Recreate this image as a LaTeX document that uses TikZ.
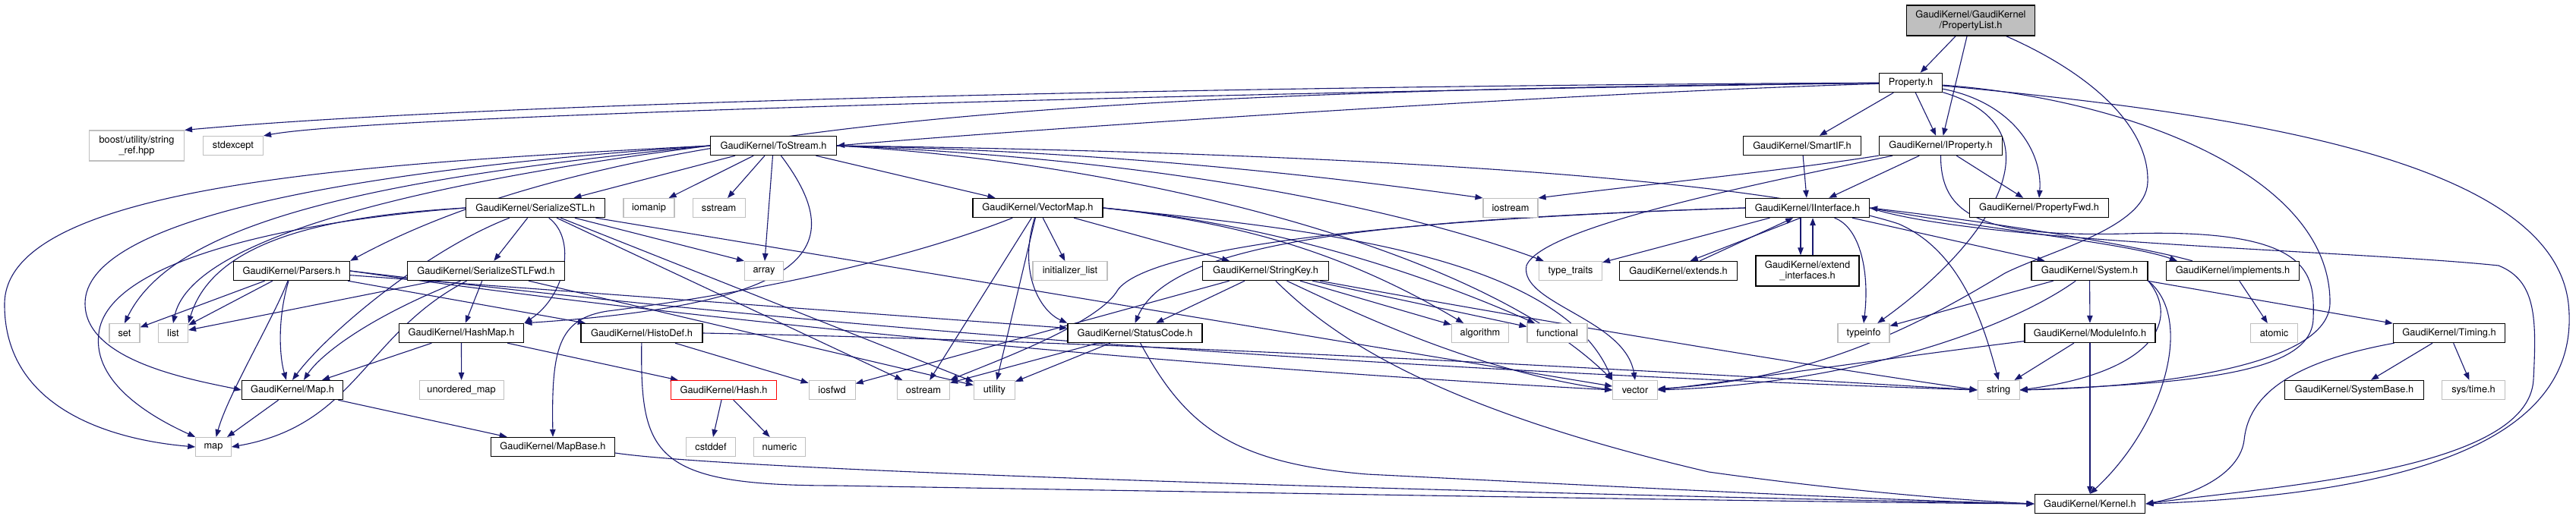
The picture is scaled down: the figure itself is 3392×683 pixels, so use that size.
\documentclass[tikz,border=0pt]{standalone}
\usepackage{fontspec}
\setmainfont{TeX Gyre Heros}
\usetikzlibrary{arrows.meta}
\definecolor{edgeblue}{HTML}{191970}
\definecolor{extgrey}{HTML}{BFBFBF}
\pgfdeclarelayer{background}
\pgfsetlayers{background,main}
\begin{document}
\begin{tikzpicture}[x=1pt,y=-1pt,
  base/.style={rectangle, minimum height=25pt, inner sep=0pt, font=\fontsize{12.8}{14}\selectfont, align=center, text=black},
  doc/.style={base, draw=black, line width=1.4pt, fill=white},
  ext/.style={base, draw=extgrey, line width=1.1pt, fill=white},
  tall/.style={minimum height=40pt},
  edge/.style={draw=edgeblue, line width=1.1pt, -{Triangle[length=10pt,width=7.5pt]}},
]
\begin{pgfonlayer}{background}
\fill[white] (0,0) rectangle (3392,683);
\end{pgfonlayer}
\useasboundingbox (0,0) rectangle (3392,683);
% row 0-1
\node[doc, tall, fill=extgrey, minimum width=169pt] (PL) at (2595,27) {GaudiKernel/GaudiKernel\\/PropertyList.h};
\node[doc, minimum width=83pt] (P) at (2516,109) {Property.h};
% row 2
\node[ext, tall, minimum width=125pt] (boost) at (180,192) {boost/utility/string\\\_ref.hpp};
\node[ext, minimum width=79pt] (stdexcept) at (307,192) {stdexcept};
\node[doc, minimum width=166pt] (TS) at (1018.5,192) {GaudiKernel/ToStream.h};
\node[doc, minimum width=155pt] (SmartIF) at (2373,192) {GaudiKernel/SmartIF.h};
\node[doc, minimum width=162pt] (IP) at (2555.5,192) {GaudiKernel/IProperty.h};
% row 3
\node[doc, minimum width=183pt] (SS) at (705,274) {GaudiKernel/SerializeSTL.h};
\node[ext, minimum width=67pt] (iomanip) at (854.5,274) {iomanip};
\node[ext, minimum width=69pt] (sstream) at (946.6,274) {sstream};
\node[doc, minimum width=171pt] (VM) at (1366.5,274) {GaudiKernel/VectorMap.h};
\node[ext, minimum width=72pt] (iostream) at (1989,274) {iostream};
\node[doc, minimum width=163pt] (II) at (2380,274) {GaudiKernel/IInterface.h};
\node[doc, minimum width=183pt] (PFwd) at (2685,274) {GaudiKernel/PropertyFwd.h};
% row 4
\node[doc, minimum width=153pt] (Parsers) at (384,357) {GaudiKernel/Parsers.h};
\node[doc, minimum width=207pt] (SF) at (640,357) {GaudiKernel/SerializeSTLFwd.h};
\node[ext, minimum width=51pt] (array) at (1006,357) {array};
\node[ext, minimum width=98pt] (initlist) at (1409,357) {initializer\_list};
\node[doc, minimum width=166pt] (SK) at (1666.6,357) {GaudiKernel/StringKey.h};
\node[ext, minimum width=83pt] (typetraits) at (2068,357) {type\_traits};
\node[doc, minimum width=155pt] (extends) at (2210,357) {GaudiKernel/extends.h};
\node[doc, tall, minimum width=136pt] (EI) at (2380,357) {GaudiKernel/extend\\\_interfaces.h};
\node[doc, minimum width=153pt] (Sys) at (2751.5,357) {GaudiKernel/System.h};
\node[doc, minimum width=175pt] (impl) at (2940,357) {GaudiKernel/implements.h};
% row 5
\node[ext, minimum width=40pt] (set) at (164,439) {set};
\node[ext, minimum width=39pt] (list) at (228,439) {list};
\node[doc, minimum width=164.5pt] (HM) at (607.5,439) {GaudiKernel/HashMap.h};
\node[doc, minimum width=160pt] (HD) at (845,439) {GaudiKernel/HistoDef.h};
\node[doc, minimum width=177pt] (SC) at (1494.5,439) {GaudiKernel/StatusCode.h};
\node[ext, minimum width=75pt] (algorithm) at (1949,439) {algorithm};
\node[ext, minimum width=79pt] (functional) at (2050.5,439) {functional};
\node[ext, minimum width=68pt] (typeinfo) at (2454,439) {typeinfo};
\node[doc, minimum width=172pt] (MI) at (2752,439) {GaudiKernel/ModuleInfo.h};
\node[ext, minimum width=62pt] (atomic) at (2994.5,439) {atomic};
\node[doc, minimum width=147pt] (Timing) at (3225,439) {GaudiKernel/Timing.h};
% row 6
\node[doc, minimum width=133pt] (Map) at (385,514) {GaudiKernel/Map.h};
\node[ext, minimum width=111pt] (umap) at (607.6,514) {unordered\_map};
\node[doc, draw=red, line width=1.1pt, minimum width=139pt] (Hash) at (953,514) {GaudiKernel/Hash.h};
\node[ext, minimum width=61pt] (iosfwd) at (1095.6,514) {iosfwd};
\node[ext, minimum width=69pt] (ostream) at (1216,514) {ostream};
\node[ext, minimum width=54pt] (utility) at (1309.4,514) {utility};
\node[ext, minimum width=58.6pt] (vector) at (2153,514) {vector};
\node[ext, minimum width=55pt] (string) at (2631.6,514) {string};
\node[doc, minimum width=183pt] (SysBase) at (3100,514) {GaudiKernel/SystemBase.h};
\node[ext, minimum width=83pt] (systime) at (3257,514) {sys/time.h};
% row 7-8
\node[ext, minimum width=46.5pt] (map) at (281,589) {map};
\node[doc, minimum width=163pt] (MapBase) at (728,589) {GaudiKernel/MapBase.h};
\node[ext, minimum width=65pt] (cstddef) at (936,589) {cstddef};
\node[ext, minimum width=68pt] (numeric) at (1026.4,589) {numeric};
\node[doc, minimum width=145.5pt] (Kernel) at (2752,664) {GaudiKernel/Kernel.h};

\begin{pgfonlayer}{background}
% ---- PropertyList
\draw[edge] (PL) -- (P);
\draw[edge] (PL) -- (IP);
\draw[edge] (PL) .. controls (2760,100) and (2830,170) .. (2828,240) .. controls (2826,300) and (2700,330) .. (2640,360) .. controls (2540,420) and (2400,500) .. (vector);
% ---- Property
\draw[edge] (P) .. controls (1800,112) and (700,130) .. (boost.north east);
\draw[edge] (P) .. controls (1800,118) and (500,150) .. (stdexcept.north east);
\draw[edge] (P) .. controls (2000,125) and (1300,175) .. (TS.east);
\draw[edge] (P) .. controls (1400,120) and (800,160) .. (Parsers.north east);
\draw[edge] (P) -- (SmartIF);
\draw[edge] (P) -- (IP);
\draw[edge] (P) .. controls (2650,135) and (2690,200) .. (PFwd.north);
\draw[edge] (P) .. controls (2720,170) and (2620,320) .. (typeinfo);
\draw[edge] (P) .. controls (2800,130) and (3070,230) .. (3068,400) .. controls (3066,480) and (2850,510) .. (string.east);
\draw[edge] (P) .. controls (2950,150) and (3360,210) .. (3382,400) .. controls (3400,570) and (3200,650) .. (Kernel.east);
% ---- IProperty
\draw[edge] (IP) -- (II);
\draw[edge] (IP) -- (PFwd);
\draw[edge] (IP) .. controls (2350,225) and (2150,245) .. (iostream.north east);
\draw[edge] (IP) .. controls (2300,245) and (2030,300) .. (2010,350) .. controls (2000,400) and (2140,420) .. (vector.north);
\draw[edge] (IP.south) .. controls (2555,290) and (2620,312) .. (2800,308) .. controls (3045,300) and (3048,360) .. (3046,420) .. controls (3044,490) and (2900,505) .. (string.east);
% ---- SmartIF
\draw[edge] (SmartIF) -- (II);
% ---- ToStream
\draw[edge] (TS) -- (SS);
\draw[edge] (TS) -- (iomanip);
\draw[edge] (TS) -- (sstream);
\draw[edge] (TS) -- (array);
\draw[edge] (TS) .. controls (1115,320) and (1085,400) .. (HM.north east);
\draw[edge] (TS) -- (VM);
\draw[edge] (TS.east) .. controls (1500,200) and (1800,240) .. (iostream.north west);
\draw[edge] (TS.east) .. controls (1550,210) and (1860,280) .. (typetraits);
\draw[edge] (TS.east) .. controls (1700,200) and (2300,230) .. (2500,295) .. controls (2580,330) and (2610,420) .. (string.north);
\draw[edge] (TS.east) .. controls (1500,215) and (1950,330) .. (vector.north west);
\draw[edge] (TS.west) .. controls (500,215) and (8,240) .. (6,400) .. controls (5,540) and (150,580) .. (map.west);
\draw[edge] (TS.west) .. controls (450,225) and (112,290) .. (112,400) .. controls (112,475) and (250,500) .. (Map.west);
\draw[edge] (TS.west) .. controls (500,235) and (230,290) .. (set.north);
\draw[edge] (TS.west) .. controls (520,245) and (250,320) .. (list.north);
% ---- SerializeSTL
\draw[edge] (SS) -- (SF);
\draw[edge] (SS) .. controls (760,315) and (745,390) .. (HM.north east);
\draw[edge] (SS) -- (array.north west);
\draw[edge] (SS) -- (ostream);
\draw[edge] (SS) -- (utility);
\draw[edge] (SS) -- (vector);
\draw[edge] (SS.west) .. controls (420,285) and (280,320) .. (list.north east);
\draw[edge] (SS.west) .. controls (400,290) and (140,340) .. (130,440) .. controls (122,505) and (200,550) .. (map.north west);
\draw[edge] (SS) .. controls (560,330) and (430,440) .. (Map.north);
% ---- VectorMap
\draw[edge] (VM) .. controls (1200,340) and (1000,385) .. (800,410) .. controls (735,420) and (726,460) .. (MapBase.north);
\draw[edge] (VM) -- (ostream);
\draw[edge] (VM) -- (utility);
\draw[edge] (VM) .. controls (1340,360) and (1370,410) .. (SC.north west);
\draw[edge] (VM) -- (initlist);
\draw[edge] (VM) -- (SK);
\draw[edge] (VM.east) .. controls (1600,290) and (1750,320) .. (algorithm);
\draw[edge] (VM.east) .. controls (1650,292) and (1850,350) .. (functional);
\draw[edge] (VM.east) .. controls (1700,300) and (2050,330) .. (vector.north west);
% ---- StringKey
\draw[edge] (SK) -- (SC);
\draw[edge] (SK) -- (iosfwd);
\draw[edge] (SK) -- (algorithm);
\draw[edge] (SK) -- (functional);
\draw[edge] (SK) .. controls (1800,420) and (1950,490) .. (vector.west);
\draw[edge] (SK) .. controls (1900,400) and (2300,470) .. (string.west);
\draw[edge] (SK) .. controls (1760,450) and (1900,540) .. (2250,622) .. controls (2450,650) and (2600,660) .. (Kernel.west);
% ---- IInterface
\draw[edge] (II.235) -- (extends.40);
\draw[edge] (extends.25) -- (II.215);
\draw[edge] ([xshift=-9pt]II.south) -- ([xshift=-9pt]EI.north);
\draw[edge] ([xshift=7pt]EI.north) -- ([xshift=7pt]II.south);
\draw[edge] (II) -- (Sys);
\draw[edge] (II) .. controls (2450,300) and (2462,360) .. (typeinfo.north);
\draw[edge] (II) -- (typetraits);
\draw[edge] (II.west) .. controls (1800,290) and (1540,320) .. (SC.north);
\draw[edge] (II.west) .. controls (1800,290) and (1500,330) .. (1470,385) .. controls (1440,430) and (1300,480) .. (ostream.north east);
\draw[edge] (II.east) .. controls (2600,320) and (3100,330) .. (3290,350) .. controls (3340,370) and (3340,420) .. (3336,500) .. controls (3330,620) and (3000,640) .. (Kernel.east);
\draw[edge] (II.east) .. controls (2600,300) and (2800,320) .. ([xshift=15pt]impl.north west);
\draw[edge] ([xshift=35pt]impl.north west) .. controls (2800,320) and (2600,290) .. (II.east);
% ---- System
\draw[edge] (Sys) -- (typeinfo);
\draw[edge] (Sys) .. controls (2650,430) and (2450,505) .. (vector.east);
\draw[edge] (Sys.south east) .. controls (2870,420) and (2840,490) .. (string.east);
\draw[edge] (Sys) -- (MI);
\draw[edge] (Sys.south east) .. controls (2890,420) and (2850,560) .. (Kernel.north);
\draw[edge] (Sys) -- (Timing);
% ---- ModuleInfo
\draw[edge] (MI) -- (Kernel);
\draw[edge] (MI) -- (string);
\draw[edge] (MI) .. controls (2500,470) and (2300,500) .. (vector.east);
% ---- Timing
\draw[edge] (Timing) -- (SysBase);
\draw[edge] (Timing) -- (systime);
\draw[edge] (Timing) .. controls (3000,480) and (2960,530) .. (2955,580) .. controls (2950,620) and (2900,650) .. (Kernel.east);
% ---- implements
\draw[edge] (impl) -- (atomic);
% ---- StatusCode
\draw[edge] (SC) -- (ostream);
\draw[edge] (SC) -- (utility);
\draw[edge] (SC) .. controls (1560,560) and (1620,610) .. (1800,625) .. controls (2200,645) and (2500,660) .. (Kernel.west);
% ---- HashMap
\draw[edge] (HM) -- (Map);
\draw[edge] (HM) -- (umap);
\draw[edge] (HM) -- (Hash);
% ---- HistoDef
\draw[edge] (HD) -- (iosfwd);
\draw[edge] (HD) .. controls (843,600) and (860,640) .. (1100,640) .. controls (1800,652) and (2400,662) .. (Kernel.west);
\draw[edge] (HD.east) .. controls (1500,450) and (2200,490) .. (string.west);
% ---- Parsers
\draw[edge] (Parsers) -- (set);
\draw[edge] (Parsers) -- (list);
\draw[edge] (Parsers) .. controls (360,420) and (300,520) .. (map);
\draw[edge] (Parsers) .. controls (365,420) and (368,470) .. ([xshift=-8pt]Map.north);
\draw[edge] (Parsers) -- (HD);
\draw[edge] (Parsers) -- (SC);
\draw[edge] (Parsers.east) .. controls (900,420) and (1500,480) .. (vector.west);
\draw[edge] (Parsers.east) .. controls (900,410) and (1600,480) .. (string.west);
% ---- SerializeSTLFwd
\draw[edge] (SF) -- (list);
\draw[edge] (SF) .. controls (480,440) and (470,560) .. (map.east);
\draw[edge] (SF) .. controls (480,420) and (420,470) .. ([xshift=15pt]Map.north);
\draw[edge] (SF) -- (HM);
\draw[edge] (SF) -- (utility);
% ---- Map / MapBase / Hash
\draw[edge] (Map) -- (map);
\draw[edge] (Map) -- (MapBase);
\draw[edge] ([yshift=-8pt]MapBase.east) .. controls (1000,625) and (2200,655) .. (Kernel.west);
\draw[edge] (Hash) -- (cstddef);
\draw[edge] (Hash) -- (numeric);
\end{pgfonlayer}
\end{tikzpicture}
\end{document}
